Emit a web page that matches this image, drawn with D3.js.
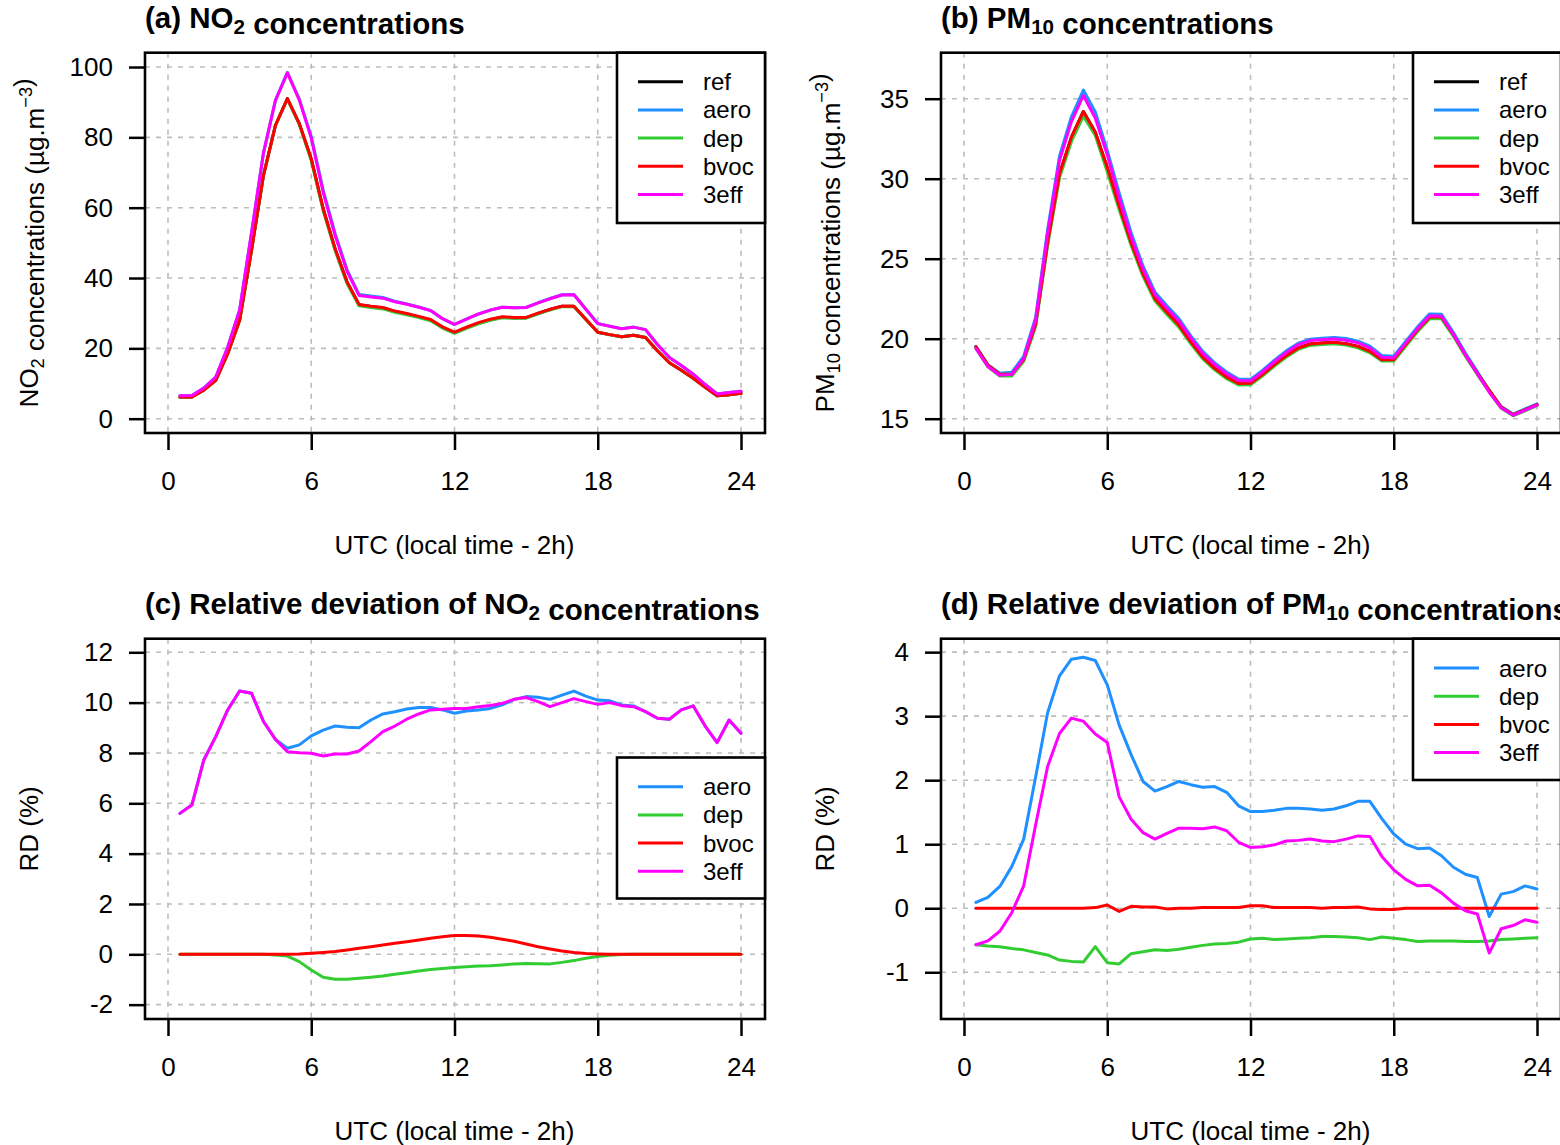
<!DOCTYPE html>
<html>
<head>
<meta charset="utf-8">
<script src="https://cdn.jsdelivr.net/npm/d3@7"></script>
<style>
  body { margin: 0; background: #fff; }
  svg { display: block; }
  text { font-family: "Liberation Sans", Arial, Helvetica, sans-serif; fill: #000; }
</style>
</head>
<body>
<svg id="fig" width="1560" height="1145"></svg>
<script>
// Half-hourly output times (UTC, hours)
const hours = [0.5,1,1.5,2,2.5,3,3.5,4,4.5,5,5.5,6,6.5,7,7.5,8,8.5,9,9.5,10,10.5,11,11.5,12,
               12.5,13,13.5,14,14.5,15,15.5,16,16.5,17,17.5,18,18.5,19,19.5,20,20.5,21,21.5,22,22.5,23,23.5,24];

// NO2 concentrations (µg/m3)
const no2Ref  = [6.2,6.2,8.1,10.9,18.5,28.0,48.0,69.2,83.4,91.0,83.89,73.87,59.66,48.25,38.83,32.42,31.9,31.48,30.47,29.75,28.94,28.02,25.92,24.42,
                 25.81,27.1,28.11,28.82,28.66,28.69,29.91,31.04,31.96,31.99,28.29,24.6,23.9,23.3,23.7,23.1,19.3,15.9,13.8,11.5,8.9,6.5,6.8,7.2];
const no2Aero = [6.55,6.57,8.73,11.84,20.30,30.93,52.98,75.60,90.52,98.45,90.87,80.28,64.98,52.63,42.33,35.34,34.87,34.49,33.41,32.65,31.78,30.77,28.44,26.76,
                 28.31,29.73,30.86,31.68,31.56,31.63,32.96,34.18,35.25,35.34,31.19,27.08,26.31,25.61,26.04,25.33,21.11,17.39,15.14,12.64,9.71,7.05,7.43,7.83];
const no2Dep  = [6.2,6.2,8.1,10.9,18.5,28.0,48.0,69.2,83.37,90.94,83.65,73.41,59.12,47.77,38.45,32.11,31.61,31.21,30.23,29.53,28.75,27.85,25.77,24.29,
                 25.68,26.98,27.98,28.70,28.55,28.59,29.80,30.92,31.86,31.91,28.24,24.58,23.89,23.3,23.7,23.1,19.3,15.9,13.8,11.5,8.9,6.5,6.8,7.2];
const no2Bvoc = [6.2,6.2,8.1,10.9,18.5,28.0,48.0,69.2,83.4,91.0,83.9,73.9,59.7,48.3,38.9,32.5,32.0,31.6,30.6,29.9,29.1,28.2,26.1,24.6,
                 26.0,27.3,28.3,29.0,28.8,28.8,30.0,31.1,32.0,32.0,28.3,24.6,23.9,23.3,23.7,23.1,19.3,15.9,13.8,11.5,8.9,6.5,6.8,7.2];
const no2Eff3 = [6.55,6.57,8.73,11.84,20.30,30.93,52.98,75.60,90.52,98.33,90.61,79.77,64.36,52.09,41.92,35.04,34.60,34.27,33.23,32.53,31.70,30.74,28.44,26.81,
                 28.33,29.77,30.89,31.69,31.56,31.62,32.91,34.09,35.16,35.24,31.13,27.04,26.29,25.60,26.03,25.33,21.11,17.39,15.14,12.64,9.71,7.05,7.43,7.83];

// PM10 concentrations (µg/m3)
const pmRef  = [19.5,18.35,17.78,17.78,18.7,20.9,26.0,30.3,32.6,34.2,32.9,30.7,28.3,26.0,24.05,22.5,21.65,20.85,19.8,18.85,18.15,17.6,17.2,17.2,
                17.75,18.38,18.94,19.42,19.67,19.73,19.77,19.69,19.52,19.21,18.69,18.69,19.63,20.56,21.35,21.35,20.25,19.0,17.85,16.77,15.73,15.25,15.56,15.88];
const pmAero = [19.52,18.38,17.84,17.90,18.90,21.33,26.79,31.40,33.87,35.54,34.17,31.77,29.11,26.62,24.53,22.91,22.06,21.26,20.18,19.21,18.49,17.92,17.48,17.46,
                18.02,18.66,19.24,19.72,19.97,20.03,20.08,20.01,19.85,19.53,18.95,18.91,19.83,20.75,21.55,21.53,20.38,19.10,17.94,16.75,15.76,15.29,15.61,15.93];
const pmDep  = [19.39,18.24,17.67,17.67,18.58,20.76,25.81,30.05,32.33,33.91,32.70,30.44,28.05,25.82,23.89,22.35,21.51,20.72,19.68,18.74,18.05,17.50,17.11,17.12,
                17.67,18.29,18.85,19.33,19.58,19.64,19.68,19.60,19.43,19.12,18.61,18.60,19.53,20.45,21.24,21.24,20.15,18.90,17.76,16.68,15.65,15.18,15.49,15.81];
const pmBvoc = [19.5,18.35,17.78,17.78,18.7,20.9,26.0,30.3,32.6,34.2,32.9,30.72,28.29,26.01,24.05,22.5,21.65,20.85,19.8,18.85,18.15,17.6,17.2,17.21,
                17.76,18.38,18.94,19.42,19.67,19.73,19.77,19.69,19.52,19.21,18.69,18.69,19.63,20.56,21.35,21.35,20.25,19.0,17.85,16.77,15.73,15.25,15.56,15.88];
const pmEff3 = [19.39,18.26,17.72,17.77,18.77,21.17,26.57,31.13,33.57,35.20,33.79,31.50,28.79,26.36,24.33,22.74,21.90,21.11,20.05,19.08,18.38,17.81,17.38,17.36,
                17.92,18.56,19.14,19.63,19.88,19.94,19.98,19.90,19.74,19.43,18.84,18.80,19.72,20.63,21.43,21.40,20.27,18.99,17.83,16.65,15.68,15.21,15.53,15.85];

// Relative deviation from ref, NO2 (%)
const rdNo2Aero = [5.6,5.93,7.72,8.65,9.71,10.46,10.37,9.25,8.54,8.19,8.32,8.68,8.91,9.07,9.02,9.0,9.31,9.55,9.64,9.75,9.81,9.81,9.71,9.58,
                   9.67,9.71,9.77,9.91,10.13,10.24,10.21,10.13,10.3,10.46,10.26,10.1,10.07,9.91,9.87,9.64,9.38,9.34,9.71,9.87,9.07,8.41,9.31,8.78];
const rdNo2Dep  = [0,0,0,0,0,0,0,0,-0.03,-0.07,-0.29,-0.62,-0.91,-0.99,-0.99,-0.95,-0.91,-0.86,-0.79,-0.73,-0.66,-0.6,-0.56,-0.52,
                   -0.49,-0.46,-0.45,-0.42,-0.38,-0.36,-0.37,-0.38,-0.32,-0.25,-0.16,-0.09,-0.04,-0.01,0,0,0,0,0,0,0,0,0,0];
const rdNo2Bvoc = [0,0,0,0,0,0,0,0,0,0,0.01,0.04,0.07,0.11,0.17,0.24,0.3,0.37,0.44,0.5,0.57,0.64,0.7,0.75,
                   0.75,0.73,0.68,0.6,0.52,0.41,0.3,0.21,0.13,0.07,0.03,0.01,0,0,0,0,0,0,0,0,0,0,0,0];
const rdNo2Eff3 = [5.6,5.93,7.72,8.65,9.71,10.46,10.37,9.25,8.54,8.05,8.01,7.99,7.88,7.96,7.96,8.08,8.45,8.85,9.07,9.34,9.55,9.71,9.74,9.77,
                   9.77,9.84,9.89,9.97,10.13,10.2,10.04,9.84,10.0,10.16,10.04,9.93,10.0,9.88,9.84,9.64,9.38,9.34,9.71,9.87,9.07,8.41,9.31,8.78];

// Relative deviation from ref, PM10 (%)
const rdPmAero = [0.09,0.17,0.34,0.65,1.08,2.05,3.05,3.63,3.89,3.92,3.87,3.49,2.86,2.4,1.98,1.83,1.9,1.98,1.93,1.89,1.9,1.81,1.6,1.51,
                  1.51,1.53,1.56,1.56,1.55,1.53,1.55,1.6,1.67,1.67,1.4,1.16,1.0,0.93,0.94,0.82,0.64,0.53,0.48,-0.13,0.22,0.26,0.35,0.3];
const rdPmDep  = [-0.57,-0.59,-0.6,-0.63,-0.65,-0.69,-0.73,-0.81,-0.83,-0.84,-0.6,-0.85,-0.87,-0.71,-0.68,-0.65,-0.66,-0.64,-0.61,-0.58,-0.56,-0.55,-0.53,-0.48,
                  -0.47,-0.49,-0.48,-0.47,-0.46,-0.44,-0.44,-0.45,-0.46,-0.49,-0.45,-0.47,-0.49,-0.52,-0.51,-0.51,-0.51,-0.52,-0.52,-0.51,-0.49,-0.48,-0.47,-0.46];
const rdPmBvoc = [0,0,0,0,0,0,0,0,0,0,0.01,0.05,-0.05,0.03,0.02,0.02,-0.01,0,0,0.01,0.01,0.01,0.01,0.04,
                  0.04,0.01,0.01,0.01,0.01,0,0.01,0.01,0.02,-0.01,-0.02,-0.02,0,0,0,0,0,0,0,0,0,0,0,0];
const rdPmEff3 = [-0.57,-0.51,-0.36,-0.07,0.35,1.3,2.21,2.73,2.97,2.92,2.72,2.59,1.74,1.39,1.18,1.08,1.17,1.25,1.25,1.24,1.27,1.21,1.03,0.95,
                  0.96,0.99,1.05,1.06,1.08,1.05,1.04,1.08,1.13,1.12,0.81,0.6,0.45,0.35,0.36,0.24,0.08,-0.04,-0.09,-0.7,-0.32,-0.27,-0.18,-0.22];

// Axis ticks
const xTicks = [0, 6, 12, 18, 24];
const no2Ticks = [0, 20, 40, 60, 80, 100];
const pmTicks = [15, 20, 25, 30, 35];
const rdNo2Ticks = [-2, 0, 2, 4, 6, 8, 10, 12];
const rdPmTicks = [-1, 0, 1, 2, 3, 4];

const runNames = ["ref", "aero", "dep", "bvoc", "3eff"];
const runColors = {ref: "#000000", aero: "#1E90FF", dep: "#32CD32", bvoc: "#FF0000", "3eff": "#FF00FF"};

const svg = d3.select("#fig");
svg.append("rect").attr("width", 1560).attr("height", 1145).attr("fill", "#fff");

const BASE = 26;     // axis font size
const LEG = 24;      // legend font size
const TITLE = 29.5;  // panel title font size

// Write rich text made of plain / sub / sup pieces
function richText(sel, parts, size) {
  parts.forEach(p => {
    if (p.sub) {
      sel.append("tspan").attr("dy", size * 0.22).attr("font-size", size * 0.7).text(p.t);
      sel.append("tspan").attr("dy", -size * 0.22).text("");
    } else if (p.sup) {
      sel.append("tspan").attr("dy", -size * 0.45).attr("font-size", size * 0.7).text(p.t);
      sel.append("tspan").attr("dy", size * 0.45).text("");
    } else {
      sel.append("tspan").text(p.t);
    }
  });
}

const panels = [
  {
    key: "a", box: [145, 52.7, 765, 433], yDomain: [-4.07, 104.07], yTicks: no2Ticks,
    series: {ref: no2Ref, aero: no2Aero, dep: no2Dep, bvoc: no2Bvoc, "3eff": no2Eff3},
    title: [{t: "(a) NO"}, {t: "2", sub: true}, {t: " concentrations"}],
    ylabel: [{t: "NO"}, {t: "2", sub: true}, {t: " concentrations (µg.m"}, {t: "−3", sup: true}, {t: ")"}],
    legend: {names: runNames, box: [617, 52.7, 765, 223], firstRow: 81.7}
  },
  {
    key: "b", box: [941, 52.7, 1561, 433], yDomain: [14.106, 37.875], yTicks: pmTicks,
    series: {ref: pmRef, aero: pmAero, dep: pmDep, bvoc: pmBvoc, "3eff": pmEff3},
    title: [{t: "(b) PM"}, {t: "10", sub: true}, {t: " concentrations"}],
    ylabel: [{t: "PM"}, {t: "10", sub: true}, {t: " concentrations (µg.m"}, {t: "−3", sup: true}, {t: ")"}],
    legend: {names: runNames, box: [1413, 52.7, 1561, 223], firstRow: 81.7}
  },
  {
    key: "c", box: [145, 638.7, 765, 1019], yDomain: [-2.57, 12.54], yTicks: rdNo2Ticks,
    series: {aero: rdNo2Aero, dep: rdNo2Dep, bvoc: rdNo2Bvoc, "3eff": rdNo2Eff3},
    title: [{t: "(c) Relative deviation of NO"}, {t: "2", sub: true}, {t: " concentrations"}],
    ylabel: [{t: "RD (%)"}],
    legend: {names: runNames.slice(1), box: [617, 757.5, 765, 898.5], firstRow: 786.7}
  },
  {
    key: "d", box: [941, 638.7, 1561, 1019], yDomain: [-1.73, 4.21], yTicks: rdPmTicks,
    series: {aero: rdPmAero, dep: rdPmDep, bvoc: rdPmBvoc, "3eff": rdPmEff3},
    title: [{t: "(d) Relative deviation of PM"}, {t: "10", sub: true}, {t: " concentrations"}],
    ylabel: [{t: "RD (%)"}],
    legend: {names: runNames.slice(1), box: [1413, 638.7, 1561, 780], firstRow: 668}
  }
];

panels.forEach(p => {
  const [x0, y0, x1, y1] = p.box;
  const x = d3.scaleLinear().domain([-0.963, 25.005]).range([x0, x1]);
  const y = d3.scaleLinear().domain(p.yDomain).range([y1, y0]);
  const g = svg.append("g").attr("class", "panel-" + p.key);

  // dashed grid
  const grid = g.append("g").attr("stroke", "#bdbdbd").attr("stroke-width", 1.6)
    .attr("stroke-dasharray", "5,6").attr("fill", "none");
  xTicks.forEach(t => grid.append("line").attr("x1", x(t)).attr("x2", x(t)).attr("y1", y0).attr("y2", y1));
  p.yTicks.forEach(t => grid.append("line").attr("x1", x0).attr("x2", x1).attr("y1", y(t)).attr("y2", y(t)));

  // series lines
  const clipId = "clip-" + p.key;
  g.append("clipPath").attr("id", clipId).append("rect")
    .attr("x", x0).attr("y", y0).attr("width", x1 - x0).attr("height", y1 - y0);
  const line = d3.line().x((d, i) => x(hours[i])).y(d => y(d));
  const lines = g.append("g").attr("clip-path", `url(#${clipId})`);
  Object.keys(p.series).forEach(name => {
    lines.append("path").datum(p.series[name])
      .attr("d", line).attr("fill", "none")
      .attr("stroke", runColors[name]).attr("stroke-width", 3)
      .attr("stroke-linejoin", "round").attr("stroke-linecap", "round");
  });

  // axes
  const xAxis = d3.axisBottom(x).tickValues(xTicks).tickSize(17).tickPadding(22).tickSizeOuter(0);
  const gx = g.append("g").attr("transform", `translate(0,${y1})`).call(xAxis);
  gx.select(".domain").remove();
  gx.selectAll(".tick line").attr("stroke", "#000").attr("stroke-width", 2.5);
  gx.selectAll(".tick text").attr("font-size", BASE).attr("font-family", "Liberation Sans, Arial, sans-serif");

  const yAxis = d3.axisLeft(y).tickValues(p.yTicks).tickSize(16).tickPadding(16).tickSizeOuter(0)
    .tickFormat(d3.format("d"));
  const gy = g.append("g").attr("transform", `translate(${x0},0)`).call(yAxis);
  gy.select(".domain").remove();
  gy.selectAll(".tick line").attr("stroke", "#000").attr("stroke-width", 2.5);
  gy.selectAll(".tick text").attr("font-size", BASE).attr("font-family", "Liberation Sans, Arial, sans-serif")
    .text(d => d < 0 ? "-" + Math.abs(d) : String(d));

  // frame
  g.append("rect").attr("x", x0).attr("y", y0).attr("width", x1 - x0).attr("height", y1 - y0)
    .attr("fill", "none").attr("stroke", "#000").attr("stroke-width", 2.6);

  // x label
  g.append("text").attr("x", x(12)).attr("y", y1 + 121).attr("text-anchor", "middle")
    .attr("font-size", BASE).text("UTC (local time - 2h)");

  // y label
  const yl = g.append("text")
    .attr("transform", `translate(${x0 - 107},${(y0 + y1) / 2}) rotate(-90)`)
    .attr("text-anchor", "middle").attr("font-size", BASE);
  richText(yl, p.ylabel, BASE);

  // title
  const tt = g.append("text").attr("x", x0).attr("y", y0 - 25)
    .attr("font-size", TITLE).attr("font-weight", "bold");
  richText(tt, p.title, TITLE);

  // legend
  const L = p.legend;
  const lg = g.append("g");
  lg.append("rect").attr("x", L.box[0]).attr("y", L.box[1])
    .attr("width", L.box[2] - L.box[0]).attr("height", L.box[3] - L.box[1])
    .attr("fill", "#fff").attr("stroke", "#000").attr("stroke-width", 2.6);
  L.names.forEach((name, i) => {
    const ry = L.firstRow + i * 28.2;
    lg.append("line").attr("x1", L.box[0] + 21).attr("x2", L.box[0] + 66)
      .attr("y1", ry).attr("y2", ry).attr("stroke", runColors[name]).attr("stroke-width", 3);
    lg.append("text").attr("x", L.box[0] + 86).attr("y", ry + 8.5)
      .attr("font-size", LEG).text(name);
  });
});
</script>
</body>
</html>
